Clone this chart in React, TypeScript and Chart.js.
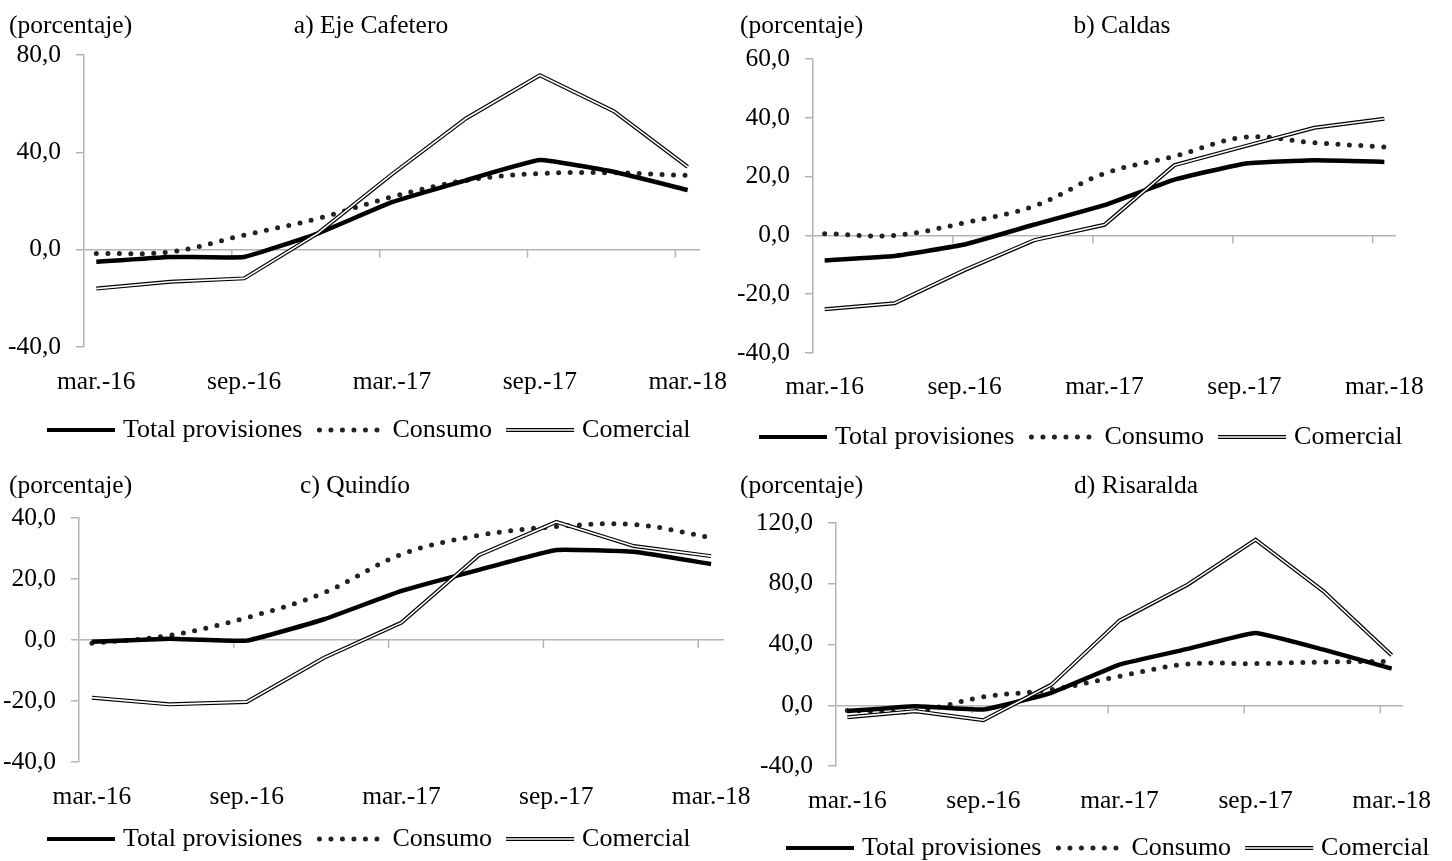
import React, { useEffect, useRef } from "react";
import { Chart, registerables } from "chart.js";

Chart.register(...registerables);

// ---------------- DATA ----------------
const QUARTERS = ["mar.-16", "jun.-16", "sep.-16", "dic.-16", "mar.-17", "jun.-17", "sep.-17", "dic.-17", "mar.-18"];
const LABELED_QUARTERS = [0, 2, 4, 6, 8];
const SERIES_NAMES = ["Total provisiones", "Consumo", "Comercial"];
const UNIT_LABEL = "(porcentaje)";

const TITLE_A = "a) Eje Cafetero";
const TOTAL_A = [-5.0, -3.0, -3.0, 6.7, 19.5, 28.5, 36.8, 32.0, 24.5];
const CONSUMO_A = [-1.6, -0.9, 6.0, 12.8, 21.7, 28.5, 31.3, 31.6, 30.5];
const COMERCIAL_A = [-16.0, -13.2, -11.8, 6.8, 31.0, 53.9, 71.7, 56.9, 34.0];
const Y_TICKS_A = [-40, 0, 40, 80];

const TITLE_B = "b) Caldas";
const TOTAL_B = [-8.5, -7.0, -3.1, 3.7, 10.3, 19.0, 24.4, 25.6, 25.0];
const CONSUMO_B = [0.6, 0.0, 4.3, 10.0, 21.1, 26.9, 33.4, 31.5, 30.1];
const COMERCIAL_B = [-25.1, -23.1, -11.8, -1.6, 3.6, 23.9, 30.3, 36.6, 39.7];
const Y_TICKS_B = [-40, -20, 0, 20, 40, 60];

const TITLE_C = "c) Quindío";
const TOTAL_C = [-0.6, 0.4, -0.2, 6.8, 16.1, 23.0, 29.5, 28.9, 24.9];
const CONSUMO_C = [-1.1, 1.5, 7.3, 15.5, 28.1, 34.3, 37.2, 37.9, 33.6];
const COMERCIAL_C = [-18.9, -21.1, -20.3, -5.8, 5.7, 27.8, 38.7, 30.8, 27.5];
const Y_TICKS_C = [-40, -20, 0, 20, 40];

const TITLE_D = "d) Risaralda";
const TOTAL_D = [-3.9, -0.6, -2.8, 8.2, 26.8, 37.1, 47.6, 36.6, 24.1];
const CONSUMO_D = [-3.5, -3.9, 5.5, 10.3, 19.1, 27.2, 27.4, 28.5, 28.9];
const COMERCIAL_D = [-7.9, -3.9, -9.9, 13.6, 55.7, 79.4, 109.0, 75.0, 32.9];
const Y_TICKS_D = [-40, 0, 40, 80, 120];

// ---------------- STYLE / LAYOUT ----------------
const MONTHS_PER_QUARTER = 3;
const FONT = '"Liberation Serif", "Times New Roman", Times, serif';
const TICK_SIZE = 25.5;
const TEXT_SIZE = 25.5;
const LEGEND_SIZE = 26;
const GREY = "#b4b4b4";
const X_AXIS_H = 60;
const SAMPLE_W = 68;

type Layout = {
  x: number; y: number; w: number; h: number;
  l: number; r: number; t: number; b: number;
  xPad: number;
  unitX: number; textY: number; titleX: number;
  legendX: number; legendY: number;
};

const LAYOUT_A: Layout = { x: 0, y: 0, w: 760, h: 460, l: 84, r: 700, t: 55, b: 347, xPad: 19.5, unitX: 9, textY: 26, titleX: 371, legendX: 47, legendY: 430 };
const LAYOUT_B: Layout = { x: 726, y: 0, w: 726, h: 460, l: 87, r: 670, t: 59, b: 353, xPad: 19, unitX: 14, textY: 26, titleX: 396, legendX: 33, legendY: 437 };
const LAYOUT_C: Layout = { x: 0, y: 445, w: 760, h: 416, l: 79, r: 724, t: 73, b: 317, xPad: 19.5, unitX: 9, textY: 41, titleX: 355, legendX: 47, legendY: 394 };
const LAYOUT_D: Layout = { x: 726, y: 445, w: 726, h: 416, l: 110, r: 677, t: 78, b: 321, xPad: 20, unitX: 14, textY: 41, titleX: 410, legendX: 60, legendY: 403 };

type PanelCfg = {
  title: string; total: number[]; consumo: number[]; comercial: number[];
  yTicks: number[]; layout: Layout;
};

const PANELS: PanelCfg[] = [
  { title: TITLE_A, total: TOTAL_A, consumo: CONSUMO_A, comercial: COMERCIAL_A, yTicks: Y_TICKS_A, layout: LAYOUT_A },
  { title: TITLE_B, total: TOTAL_B, consumo: CONSUMO_B, comercial: COMERCIAL_B, yTicks: Y_TICKS_B, layout: LAYOUT_B },
  { title: TITLE_C, total: TOTAL_C, consumo: CONSUMO_C, comercial: COMERCIAL_C, yTicks: Y_TICKS_C, layout: LAYOUT_C },
  { title: TITLE_D, total: TOTAL_D, consumo: CONSUMO_D, comercial: COMERCIAL_D, yTicks: Y_TICKS_D, layout: LAYOUT_D },
];

const toPoints = (vals: number[]) => vals.map((v, i) => ({ x: i * MONTHS_PER_QUARTER, y: v }));

function drawSample(ctx: CanvasRenderingContext2D, kind: string, x: number, y: number) {
  ctx.save();
  if (kind === "solid") {
    ctx.strokeStyle = "#000"; ctx.lineWidth = 4; ctx.lineCap = "butt";
    ctx.beginPath(); ctx.moveTo(x, y); ctx.lineTo(x + SAMPLE_W, y); ctx.stroke();
  } else if (kind === "dots") {
    ctx.strokeStyle = "#222"; ctx.lineWidth = 5; ctx.lineCap = "round";
    ctx.setLineDash([0, 11.5]);
    ctx.beginPath(); ctx.moveTo(x + 3, y); ctx.lineTo(x + SAMPLE_W - 4, y); ctx.stroke();
  } else {
    ctx.strokeStyle = "#000"; ctx.lineWidth = 4; ctx.lineCap = "butt";
    ctx.beginPath(); ctx.moveTo(x, y); ctx.lineTo(x + SAMPLE_W, y); ctx.stroke();
    ctx.strokeStyle = "#fff"; ctx.lineWidth = 1.6;
    ctx.beginPath(); ctx.moveTo(x, y); ctx.lineTo(x + SAMPLE_W, y); ctx.stroke();
  }
  ctx.restore();
}

const SAMPLE_KINDS = ["solid", "dots", "double"];

const decorPlugin = {
  id: "panelDecor",
  beforeDatasetsDraw(chart: any) {
    const xs = chart.scales.x, ys = chart.scales.y;
    const y0 = ys.getPixelForValue(0);
    const ctx = chart.ctx as CanvasRenderingContext2D;
    ctx.save();
    ctx.strokeStyle = GREY; ctx.lineWidth = 1.5;
    LABELED_QUARTERS.forEach((q) => {
      if (q === 0) return;
      const px = xs.getPixelForValue(q * MONTHS_PER_QUARTER - 0.5);
      ctx.beginPath(); ctx.moveTo(px, y0); ctx.lineTo(px, y0 + 8); ctx.stroke();
    });
    ctx.restore();
  },
  afterDraw(chart: any, _args: any, opts: any) {
    const ctx = chart.ctx as CanvasRenderingContext2D;
    const L: Layout = opts.layout;
    ctx.save();
    ctx.fillStyle = "#000";
    ctx.textBaseline = "middle";
    ctx.font = `${TEXT_SIZE}px ${FONT}`;
    ctx.textAlign = "left";
    ctx.fillText(UNIT_LABEL, L.unitX, L.textY);
    ctx.textAlign = "center";
    ctx.fillText(opts.title, L.titleX, L.textY);
    // legend
    ctx.font = `${LEGEND_SIZE}px ${FONT}`;
    ctx.textAlign = "left";
    let x = L.legendX;
    SERIES_NAMES.forEach((name, k) => {
      drawSample(ctx, SAMPLE_KINDS[k], x, L.legendY);
      x += SAMPLE_W + 8;
      ctx.fillStyle = "#000";
      ctx.fillText(name, x, L.legendY);
      x += ctx.measureText(name).width + 14;
    });
    ctx.restore();
  },
};

function Panel({ cfg }: { cfg: PanelCfg }) {
  const ref = useRef<HTMLCanvasElement>(null);
  const L = cfg.layout;
  useEffect(() => {
    const canvas = ref.current;
    if (!canvas) return;
    const yMin = Math.min(...cfg.yTicks);
    const yMax = Math.max(...cfg.yTicks);
    const chart = new Chart(canvas, {
      type: "line",
      data: {
        datasets: [
          { label: SERIES_NAMES[2], data: toPoints(cfg.comercial), borderColor: "#fff", borderWidth: 1.6, pointRadius: 0, tension: 0, order: 0 },
          { label: SERIES_NAMES[2], data: toPoints(cfg.comercial), borderColor: "#000", borderWidth: 4, pointRadius: 0, tension: 0, order: 1 },
          { label: SERIES_NAMES[0], data: toPoints(cfg.total), borderColor: "#000", borderWidth: 4.5, pointRadius: 0, tension: 0.1, order: 2 },
          { label: SERIES_NAMES[1], data: toPoints(cfg.consumo), borderColor: "#222", borderWidth: 5, borderDash: [0, 11.5], borderCapStyle: "round", pointRadius: 0, tension: 0.35, order: 3 },
        ] as any,
      },
      options: {
        responsive: false,
        animation: false,
        devicePixelRatio: 1,
        events: [],
        layout: {
          padding: { left: 0, right: L.w - L.r, top: L.t, bottom: L.h - L.b - X_AXIS_H },
        },
        plugins: {
          legend: { display: false },
          tooltip: { enabled: false },
          title: { display: false },
          panelDecor: { layout: L, title: cfg.title },
        } as any,
        scales: {
          x: {
            type: "linear",
            min: -0.5,
            max: (QUARTERS.length - 1) * MONTHS_PER_QUARTER + 0.5,
            grid: { display: false, drawTicks: false },
            border: { display: false },
            afterBuildTicks: (s: any) => { s.ticks = LABELED_QUARTERS.map((q) => ({ value: q * MONTHS_PER_QUARTER })); },
            afterFit: (s: any) => { s.height = X_AXIS_H; s.paddingLeft = 0; s.paddingRight = 0; },
            ticks: {
              autoSkip: false, maxRotation: 0, minRotation: 0, padding: L.xPad,
              color: "#000", font: { family: FONT, size: TICK_SIZE },
              callback: (v: any) => QUARTERS[Math.round(Number(v) / MONTHS_PER_QUARTER)] ?? "",
            },
          },
          y: {
            min: yMin,
            max: yMax,
            afterBuildTicks: (s: any) => { s.ticks = cfg.yTicks.map((v) => ({ value: v })); },
            afterFit: (s: any) => { s.width = L.l; s.paddingTop = 0; s.paddingBottom = 0; },
            grid: {
              color: (c: any) => (c.tick && c.tick.value === 0 ? GREY : "rgba(0,0,0,0)"),
              tickColor: GREY, tickLength: 8, lineWidth: 1.5, drawTicks: true,
            },
            border: { display: true, color: GREY, width: 1.5 },
            ticks: {
              padding: 15, color: "#000", font: { family: FONT, size: TICK_SIZE },
              callback: (v: any) => Number(v).toFixed(1).replace(".", ","),
            },
          },
        },
      } as any,
      plugins: [decorPlugin as any],
    });
    return () => chart.destroy();
  }, [cfg]);
  return (
    <canvas
      ref={ref}
      width={L.w}
      height={L.h}
      style={{ position: "absolute", left: L.x, top: L.y, width: L.w, height: L.h }}
    />
  );
}

export default function App() {
  return (
    <div style={{ position: "absolute", left: 0, top: 0, width: 1452, height: 861, background: "#fff", overflow: "hidden" }}>
      {PANELS.map((p, i) => (
        <Panel key={i} cfg={p} />
      ))}
    </div>
  );
}
